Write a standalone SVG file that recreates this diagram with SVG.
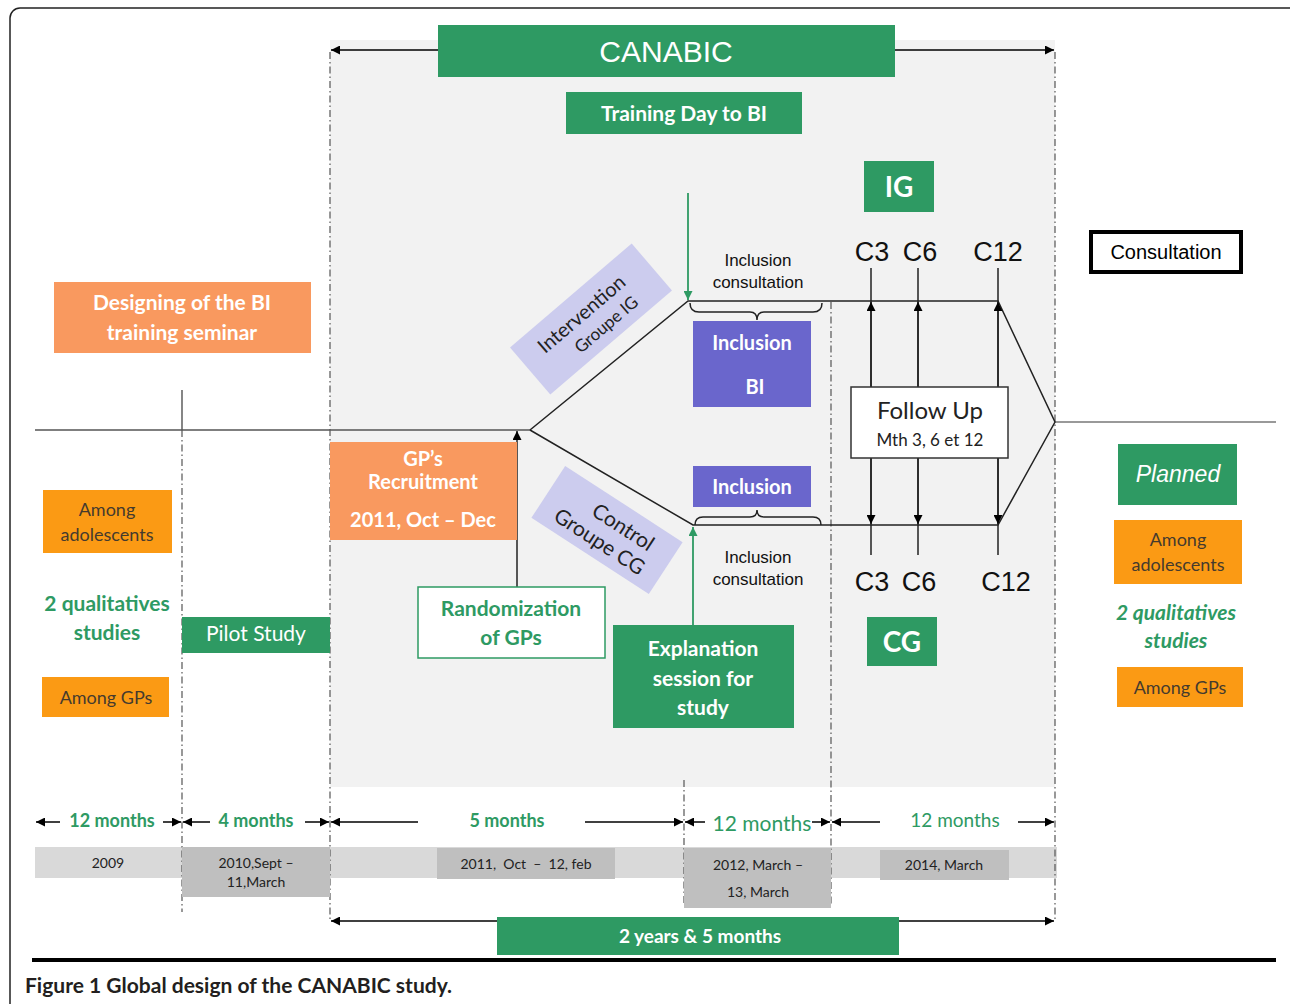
<svg xmlns="http://www.w3.org/2000/svg" width="1290" height="1004" viewBox="0 0 1290 1004">
<defs>
<marker id="ah" viewBox="0 0 10 10" refX="10" refY="5" markerWidth="11" markerHeight="9" markerUnits="userSpaceOnUse" orient="auto-start-reverse"><path d="M0,0 L10,5 L0,10 z" fill="#000"/></marker>
<marker id="ahg" viewBox="0 0 10 10" refX="10" refY="5" markerWidth="11" markerHeight="9" markerUnits="userSpaceOnUse" orient="auto-start-reverse"><path d="M0,0 L10,5 L0,10 z" fill="#2e9a63"/></marker>
<style>
.green{fill:#2e9a63}
.salmon{fill:#f9995f}
.orange{fill:#fb9a14}
.purple{fill:#6a66cc}
.lav{fill:#ccccee}
.dark{fill:#bfbfbf}
.cal{font-family:Lato,"Open Sans",sans-serif}
.ari{font-family:"Liberation Sans",Arial,sans-serif}
.wb{fill:#fff;font-weight:bold}
.gt{fill:#2e9a63;font-weight:bold}
.am{fill:#453a2e;font-size:18px}
.dd{stroke:#555;stroke-width:1.2;stroke-dasharray:7,3,1.5,3;fill:none}
.ln{stroke:#222;stroke-width:1.5;fill:none}
.tl{stroke:#000;stroke-width:1.5;fill:none}
.yr{fill:#222;font-size:14px}
</style>
</defs>
<rect x="10" y="8" width="1290" height="1010" rx="10" fill="#fff" stroke="#222" stroke-width="1.5"/>
<rect x="330" y="40" width="725" height="747" fill="#f2f2f2"/>
<rect x="35" y="847" width="1022" height="31" fill="#d9d9d9"/>

<g id="connectors">
<line class="dd" x1="330" y1="52" x2="330" y2="921"/>
<line class="dd" x1="1055" y1="52" x2="1055" y2="921"/>
<line x1="182" y1="390" x2="182" y2="430" stroke="#444" stroke-width="1.3"/>
<line class="dd" x1="182" y1="430" x2="182" y2="912"/>
<line class="dd" x1="831" y1="302" x2="831" y2="905"/>
<line class="dd" x1="684" y1="780" x2="684" y2="905"/>
<line class="tl" x1="331" y1="50" x2="1054" y2="50" marker-start="url(#ah)" marker-end="url(#ah)"/>
<line class="tl" x1="331" y1="921" x2="1054" y2="921" marker-start="url(#ah)" marker-end="url(#ah)"/>
<line x1="35" y1="430" x2="530" y2="430" stroke="#555" stroke-width="1.5"/>
<line x1="1055" y1="422" x2="1276" y2="422" stroke="#777" stroke-width="1.5"/>
<polyline class="ln" points="530,430 688,301 998,301 1055,422 998,525 693,525 530,430"/>
<line x1="688" y1="193" x2="688" y2="300" stroke="#2e9a63" stroke-width="1.8" marker-end="url(#ahg)"/>
<line x1="693" y1="625" x2="693" y2="527" stroke="#2e9a63" stroke-width="1.8" marker-end="url(#ahg)"/>
<line class="ln" x1="517" y1="587" x2="517" y2="431" marker-end="url(#ah)"/>
<path class="ln" d="M690,303 q0,9 9,9 L750,312 q7,0 7,8 q0,-8 7,-8 L813,312 q9,0 9,-9" stroke-width="1.2"/>
<path class="ln" d="M695,525 q0,-8 8,-8 L750,517 q7,0 7,-7 q0,7 7,7 L813,517 q8,0 8,8" stroke-width="1.2"/>
<line class="ln" x1="871" y1="268" x2="871" y2="387"/>
<line class="ln" x1="918" y1="268" x2="918" y2="387"/>
<line class="ln" x1="998" y1="268" x2="998" y2="387"/>
<line class="ln" x1="871" y1="387" x2="871" y2="302" marker-end="url(#ah)"/>
<line class="ln" x1="918" y1="387" x2="918" y2="302" marker-end="url(#ah)"/>
<line class="ln" x1="998" y1="387" x2="998" y2="302" marker-end="url(#ah)"/>
<line class="ln" x1="871" y1="458" x2="871" y2="555"/>
<line class="ln" x1="918" y1="458" x2="918" y2="555"/>
<line class="ln" x1="998" y1="458" x2="998" y2="555"/>
<line class="ln" x1="871" y1="458" x2="871" y2="524" marker-end="url(#ah)"/>
<line class="ln" x1="918" y1="458" x2="918" y2="524" marker-end="url(#ah)"/>
<line class="ln" x1="998" y1="458" x2="998" y2="524" marker-end="url(#ah)"/>
<line class="tl" x1="60" y1="822" x2="36" y2="822" marker-end="url(#ah)"/>
<line class="tl" x1="163" y1="822" x2="181" y2="822" marker-end="url(#ah)"/>
<line class="tl" x1="210" y1="822" x2="183" y2="822" marker-end="url(#ah)"/>
<line class="tl" x1="305" y1="822" x2="329" y2="822" marker-end="url(#ah)"/>
<line class="tl" x1="418" y1="822" x2="331" y2="822" marker-end="url(#ah)"/>
<line class="tl" x1="585" y1="822" x2="683" y2="822" marker-end="url(#ah)"/>
<line class="tl" x1="705" y1="822" x2="685" y2="822" marker-end="url(#ah)"/>
<line class="tl" x1="812" y1="822" x2="830" y2="822" marker-end="url(#ah)"/>
<line class="tl" x1="880" y1="822" x2="832" y2="822" marker-end="url(#ah)"/>
<line class="tl" x1="1018" y1="822" x2="1054" y2="822" marker-end="url(#ah)"/>
</g>

<g id="canabic"><rect class="green" x="438" y="25" width="457" height="52"/><text class="ari" x="666" y="62" font-size="30" fill="#fff" text-anchor="middle">CANABIC</text></g>
<g id="training"><rect class="green" x="566" y="92" width="236" height="42"/><text class="cal wb" x="684" y="121" font-size="21" text-anchor="middle">Training Day to BI</text></g>
<g id="ig"><rect class="green" x="864" y="161" width="70" height="51"/><text class="cal wb" x="899" y="197" font-size="28" text-anchor="middle">IG</text></g>
<g id="cg"><rect class="green" x="867" y="617" width="70" height="49"/><text class="cal wb" x="902" y="652" font-size="28" text-anchor="middle">CG</text></g>
<g id="consultation"><rect x="1091" y="232" width="150" height="40" fill="#fff" stroke="#000" stroke-width="4"/><text class="ari" x="1166" y="259" font-size="20" fill="#000" text-anchor="middle">Consultation</text></g>
<g id="designing"><rect class="salmon" x="54" y="282" width="257" height="71"/><text class="cal wb" x="182" y="310" font-size="21" text-anchor="middle">Designing of the BI</text><text class="cal wb" x="182" y="340" font-size="21" text-anchor="middle">training seminar</text></g>
<g id="top-labels" class="ari" font-size="27" fill="#111" text-anchor="middle"><text x="872" y="261">C3</text><text x="920" y="261">C6</text><text x="998" y="261">C12</text></g>
<g id="bottom-labels" class="ari" font-size="27" fill="#111" text-anchor="middle"><text x="872" y="591">C3</text><text x="919" y="591">C6</text><text x="1006" y="591">C12</text></g>
<g id="incl-cons-top" class="ari" font-size="17" fill="#111" text-anchor="middle"><text x="758" y="266">Inclusion</text><text x="758" y="288">consultation</text></g>
<g id="incl-cons-bottom" class="ari" font-size="17" fill="#111" text-anchor="middle"><text x="758" y="563">Inclusion</text><text x="758" y="585">consultation</text></g>
<g id="inclusion-bi"><rect class="purple" x="693" y="321" width="118" height="86"/><text class="cal wb" x="752" y="350" font-size="20" text-anchor="middle">Inclusion</text><text class="cal wb" x="755" y="394" font-size="20" text-anchor="middle">BI</text></g>
<g id="inclusion"><rect class="purple" x="693" y="466" width="118" height="41"/><text class="cal wb" x="752" y="494" font-size="20" text-anchor="middle">Inclusion</text></g>
<g id="intervention" transform="translate(591,319) rotate(-40.5)"><rect class="lav" x="-80" y="-31" width="160" height="62"/><text class="cal" x="-4" y="-3" font-size="20" fill="#222" text-anchor="middle">Intervention</text><text class="cal" x="8" y="20" font-size="17" fill="#222" text-anchor="middle">Groupe IG</text></g>
<g id="control" transform="translate(607,530) rotate(33)"><rect class="lav" x="-70" y="-31" width="140" height="62"/><text class="cal" x="12" y="-4" font-size="21" fill="#222" text-anchor="middle">Control</text><text class="cal" x="0" y="21" font-size="21" fill="#222" text-anchor="middle">Groupe CG</text></g>
<g id="followup"><rect x="851" y="387" width="157" height="71" fill="#fff" stroke="#333" stroke-width="1.5"/><text class="cal" x="930" y="419" font-size="24" fill="#222" text-anchor="middle">Follow Up</text><text class="cal" x="930" y="446" font-size="17" fill="#222" text-anchor="middle">Mth 3, 6 et 12</text></g>
<g id="recruitment"><rect class="salmon" x="330" y="442" width="187" height="98"/><text class="cal wb" x="423" y="466" font-size="20" text-anchor="middle">GP’s</text><text class="cal wb" x="423" y="489" font-size="20" text-anchor="middle">Recruitment</text><text class="cal wb" x="423" y="527" font-size="20" text-anchor="middle">2011, Oct – Dec</text></g>
<g id="randomization"><rect x="418" y="587" width="187" height="71" fill="#fff" stroke="#2e9a63" stroke-width="1.5"/><text class="cal gt" x="511" y="616" font-size="21" text-anchor="middle">Randomization</text><text class="cal gt" x="511" y="645" font-size="21" text-anchor="middle">of GPs</text></g>
<g id="explanation"><rect class="green" x="613" y="625" width="181" height="103"/><text class="cal wb" x="703" y="656" font-size="21" text-anchor="middle">Explanation</text><text class="cal wb" x="703" y="686" font-size="21" text-anchor="middle">session for</text><text class="cal wb" x="703" y="715" font-size="21" text-anchor="middle">study</text></g>
<g id="left-adolescents"><rect class="orange" x="43" y="490" width="129" height="63"/><text class="cal am" x="107" y="516" text-anchor="middle">Among</text><text class="cal am" x="107" y="541" text-anchor="middle">adolescents</text></g>
<g id="left-qual"><text class="cal gt" x="107" y="611" font-size="21" text-anchor="middle">2 qualitatives</text><text class="cal gt" x="107" y="640" font-size="21" text-anchor="middle">studies</text></g>
<g id="left-gps"><rect class="orange" x="42" y="677" width="127" height="40"/><text class="cal am" x="106" y="704" text-anchor="middle">Among GPs</text></g>
<g id="pilot"><rect class="green" x="182" y="617" width="148" height="36"/><text class="cal" x="256" y="641" font-size="21" fill="#fff" text-anchor="middle">Pilot Study</text></g>
<g id="planned"><rect class="green" x="1118" y="444" width="119" height="61"/><text class="ari" x="1178" y="482" font-size="23" font-style="italic" fill="#fff" text-anchor="middle">Planned</text></g>
<g id="right-adolescents"><rect class="orange" x="1114" y="520" width="128" height="64"/><text class="cal am" x="1178" y="546" text-anchor="middle">Among</text><text class="cal am" x="1178" y="571" text-anchor="middle">adolescents</text></g>
<g id="right-qual"><text class="cal gt" x="1176" y="620" font-size="21" font-style="italic" text-anchor="middle">2 qualitatives</text><text class="cal gt" x="1176" y="648" font-size="21" font-style="italic" text-anchor="middle">studies</text></g>
<g id="right-gps"><rect class="orange" x="1117" y="667" width="126" height="40"/><text class="cal am" x="1180" y="694" text-anchor="middle">Among GPs</text></g>

<g id="durations" class="cal" text-anchor="middle">
<text class="gt" x="112" y="827" font-size="18">12 months</text>
<text class="gt" x="256" y="827" font-size="18">4 months</text>
<text class="gt" x="507" y="827" font-size="18">5 months</text>
<text x="762" y="831" font-size="21" fill="#2e9a63">12 months</text>
<text x="955" y="827" font-size="19" fill="#2e9a63">12 months</text>
</g>
<g id="years" class="cal">
<text class="yr" x="108" y="868" text-anchor="middle">2009</text>
<g id="y2010"><rect class="dark" x="182" y="847" width="148" height="50"/><text class="yr" x="256" y="868" text-anchor="middle">2010,Sept –</text><text class="yr" x="256" y="887" text-anchor="middle">11,March</text></g>
<g id="y2011"><rect class="dark" x="437" y="848" width="178" height="31"/><text class="yr" x="526" y="869" text-anchor="middle" xml:space="preserve">2011,  Oct  –  12, feb</text></g>
<g id="y2012"><rect class="dark" x="684" y="848" width="147" height="60"/><text class="yr" x="758" y="870" text-anchor="middle">2012, March –</text><text class="yr" x="758" y="897" text-anchor="middle">13, March</text></g>
<g id="y2014"><rect class="dark" x="880" y="850" width="129" height="30"/><text class="yr" x="944" y="870" text-anchor="middle">2014, March</text></g>
</g>
<g id="total"><rect class="green" x="497" y="917" width="402" height="38"/><text class="cal wb" x="700" y="943" font-size="19" text-anchor="middle">2 years &amp; 5 months</text></g>
<line x1="32" y1="960" x2="1276" y2="960" stroke="#000" stroke-width="4"/>
<text class="cal" x="25" y="993" font-size="20" font-weight="bold" fill="#231f20" textLength="427" lengthAdjust="spacingAndGlyphs">Figure 1 Global design of the CANABIC study.</text>
</svg>
